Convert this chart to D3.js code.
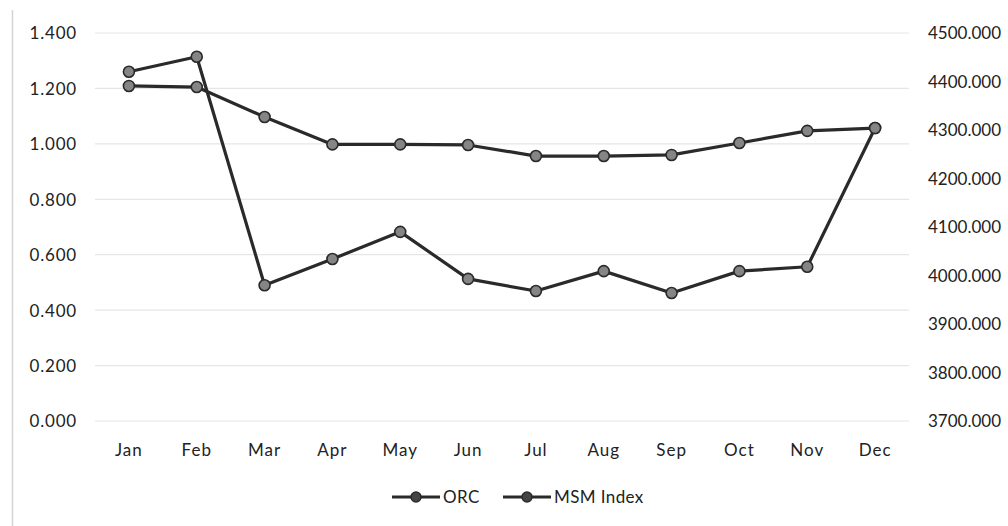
<!DOCTYPE html>
<html>
<head>
<meta charset="utf-8">
<script src="https://cdn.jsdelivr.net/npm/d3@7"></script>
<style>
  body { margin: 0; background: #fff; }
  svg text { font-family: Lato, "Open Sans", sans-serif; fill: #222; }
</style>
</head>
<body>
<svg width="1008" height="526"></svg>
<script>
const months = ["Jan", "Feb", "Mar", "Apr", "May", "Jun", "Jul", "Aug", "Sep", "Oct", "Nov", "Dec"];
// ORC on the left axis
const orc = [1.209, 1.205, 1.097, 0.998, 0.998, 0.996, 0.956, 0.956, 0.960, 1.003, 1.047, 1.057];
// MSM Index on the right axis
const msm = [4420, 4451, 3980, 4034, 4090, 3993, 3968, 4009, 3964, 4009, 4018, 4304];
const leftTicks = [0, 0.2, 0.4, 0.6, 0.8, 1.0, 1.2, 1.4];
const rightTicks = [3700, 3800, 3900, 4000, 4100, 4200, 4300, 4400, 4500];

const svg = d3.select("svg"),
    width = +svg.attr("width"),
    height = +svg.attr("height");

const margin = {top: 33, left: 95, right: 99, bottom: 105};

const x = d3.scaleBand()
    .domain(months)
    .range([margin.left, width - margin.right]);

const yLeft = d3.scaleLinear().domain([0, 1.4]).range([height - margin.bottom, margin.top]);
const yRight = d3.scaleLinear().domain([3700, 4500]).range([height - margin.bottom, margin.top]);

const fmt = d3.format(".3f");

// faint scan edge on the left
svg.append("line")
    .attr("x1", 12.5).attr("x2", 12.5)
    .attr("y1", 10).attr("y2", height)
    .style("stroke", "#d4d4d4")
    .style("stroke-width", 1.5);

// gridlines (primary axis)
svg.append("g")
    .selectAll("line")
    .data(leftTicks)
    .enter().append("line")
    .attr("x1", margin.left)
    .attr("x2", width - margin.right)
    .attr("y1", d => yLeft(d))
    .attr("y2", d => yLeft(d))
    .style("stroke", "#e6e6e6")
    .style("stroke-width", 1.2);

// left axis labels
const leftAxis = svg.append("g")
    .attr("transform", `translate(77,0)`)
    .call(d3.axisLeft(yLeft).tickValues(leftTicks).tickFormat(fmt).tickSize(0).tickPadding(0));
leftAxis.select(".domain").remove();
leftAxis.selectAll("text")
    .style("font-size", "17px")
    .style("letter-spacing", "0.8px")
    .attr("dy", "0.35em");

// right axis labels
const rightAxis = svg.append("g")
    .attr("transform", `translate(928,0)`)
    .call(d3.axisRight(yRight).tickValues(rightTicks).tickFormat(fmt).tickSize(0).tickPadding(0));
rightAxis.select(".domain").remove();
rightAxis.selectAll("text").style("font-size", "17px").attr("dy", "0.35em");

// month labels
const xAxis = svg.append("g")
    .attr("transform", `translate(0,456)`)
    .call(d3.axisBottom(x).tickSize(0).tickPadding(0));
xAxis.select(".domain").remove();
xAxis.selectAll("text")
    .style("font-size", "17px")
    .style("letter-spacing", "1px")
    .attr("dy", "0");

const cx = d => x(d) + x.bandwidth() / 2;

function drawSeries(values, yScale) {
    const line = d3.line()
        .x((d, i) => cx(months[i]))
        .y(d => yScale(d));

    svg.append("path")
        .datum(values)
        .attr("d", line)
        .style("fill", "none")
        .style("stroke", "#2a2a2a")
        .style("stroke-width", 3.2)
        .style("stroke-linejoin", "round");

    svg.append("g")
        .selectAll("circle")
        .data(values)
        .enter().append("circle")
        .attr("cx", (d, i) => cx(months[i]))
        .attr("cy", d => yScale(d))
        .attr("r", 5.5)
        .style("fill", "#858585")
        .style("stroke", "#2a2a2a")
        .style("stroke-width", 1.6);
}

drawSeries(orc, yLeft);
drawSeries(msm, yRight);

// legend
const legendItems = [
    {name: "ORC", x: 392},
    {name: "MSM Index", x: 503}
];
const legend = svg.append("g")
    .selectAll("g")
    .data(legendItems)
    .enter().append("g")
    .attr("transform", d => `translate(${d.x},497)`);

legend.append("line")
    .attr("x1", 0).attr("x2", 48)
    .attr("y1", 0).attr("y2", 0)
    .style("stroke", "#2a2a2a")
    .style("stroke-width", 3.2);

legend.append("circle")
    .attr("cx", 24).attr("cy", 0).attr("r", 5)
    .style("fill", "#444")
    .style("stroke", "#2a2a2a")
    .style("stroke-width", 1.5);

legend.append("text")
    .attr("x", 51)
    .attr("y", 0)
    .attr("dy", "0.35em")
    .style("font-size", "17px")
    .style("letter-spacing", "0.4px")
    .text(d => d.name);
</script>
</body>
</html>
